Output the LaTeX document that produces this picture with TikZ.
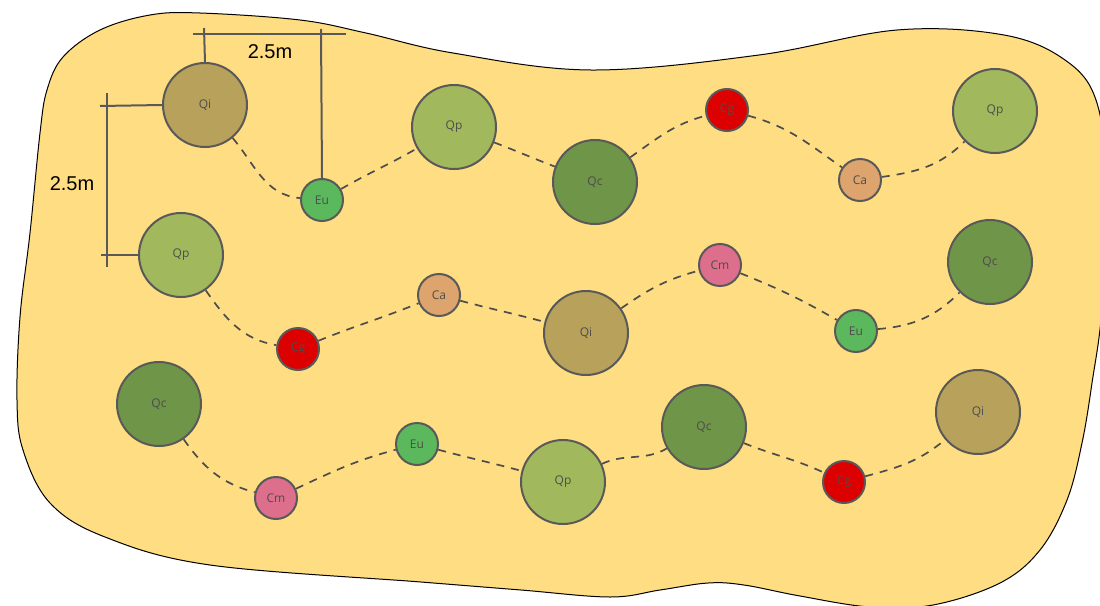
\documentclass[tikz,border=0pt]{standalone}
\usepackage{fontspec}
\setmainfont{Liberation Sans}
\newfontfamily\lblfont{Open Sans}
\definecolor{blob}{HTML}{FFDD82}
\definecolor{cQi}{HTML}{B8A15B}
\definecolor{cQp}{HTML}{A2B85C}
\definecolor{cQc}{HTML}{6F9548}
\definecolor{cEu}{HTML}{5CB85C}
\definecolor{cCg}{HTML}{DD0000}
\definecolor{cCa}{HTML}{DDA46E}
\definecolor{cCm}{HTML}{DD6E8C}
\definecolor{edge}{HTML}{595959}
\definecolor{txt}{HTML}{4D4D4D}
\tikzset{
  tree/.style={circle,draw=edge,line width=2pt,inner sep=0pt,text=txt,font=\lblfont\fontsize{12}{14}\selectfont},
  big/.style={tree,minimum size=84pt},
  small/.style={tree,minimum size=42pt},
  Qi/.style={big,fill=cQi},
  Qp/.style={big,fill=cQp},
  Qc/.style={big,fill=cQc},
  Eu/.style={small,fill=cEu},
  Cg/.style={small,fill=cCg},
  Ca/.style={small,fill=cCa},
  Cm/.style={small,fill=cCm},
  link/.style={draw=txt,line width=1.7pt,dash pattern=on 8pt off 7pt},
  dim/.style={draw=edge,line width=2pt},
  dimlabel/.style={font=\fontsize{20}{24}\selectfont,text=black,inner sep=0pt}
}
\begin{document}
\begin{tikzpicture}[x=1pt,y=-1pt]
\useasboundingbox (0,0) rectangle (1100,605);
% ground
\fill[blob,draw=black,line width=1pt] plot[smooth cycle,tension=0.6] coordinates {
 (200,13) (300,20) (366,33) (453,53) (591,70) (759,55) (897,30) (1004,35)
 (1065,60) (1096,100) (1106,180) (1102,307) (1092,383) (1082,443) (1067,500)
 (1040,550) (1000,583) (933,605) (870,607) (800,596) (744,585) (708,583)
 (660,590) (610,597) (521,590) (421,582) (210,565) (105,537) (50,503) (23,450)
 (17,400) (20,317) (30,233) (40,133) (47,90) (63,57) (100,30) (150,15)};
% row 1
\node[Qi] (a1) at (205,105) {Qi};
\node[Eu] (a2) at (322,200) {Eu};
\node[Qp] (a3) at (454,127) {Qp};
\node[Qc] (a4) at (595,182) {Qc};
\node[Cg] (a5) at (727,110) {Cg};
\node[Ca] (a6) at (860,180) {Ca};
\node[Qp] (a7) at (995,111) {Qp};
% row 2
\node[Qp] (b1) at (181,255) {Qp};
\node[Cg] (b2) at (298,349) {Cg};
\node[Ca] (b3) at (439,295) {Ca};
\node[Qi] (b4) at (586,333) {Qi};
\node[Cm] (b5) at (720,265) {Cm};
\node[Eu] (b6) at (856,331) {Eu};
\node[Qc] (b7) at (990,262) {Qc};
% row 3
\node[Qc] (c1) at (159,404) {Qc};
\node[Cm] (c2) at (276,498) {Cm};
\node[Eu] (c3) at (417,444) {Eu};
\node[Qp] (c4) at (563,482) {Qp};
\node[Qc] (c5) at (704,427) {Qc};
\node[Cg] (c6) at (844,482) {Cg};
\node[Qi] (c7) at (978,412) {Qi};
% links
\draw[link] (a1) to[out=-50,in=175] (a2);
\draw[link] (a2) to[out=30,in=-150] (a3);
\draw[link] (a3) to[out=-21,in=159] (a4);
\draw[link] (a4) to[out=35,in=195] (a5);
\draw[link] (a5) to[out=-15,in=145] (a6);
\draw[link] (a6) to[out=8,in=-135] (a7);
\draw[link] (b1) to[out=-55,in=170] (b2);
\draw[link] (b2) to[out=22,in=-158] (b3);
\draw[link] (b3) to[out=-15,in=165] (b4);
\draw[link] (b4) to[out=35,in=195] (b5);
\draw[link] (b5) to[out=-22,in=150] (b6);
\draw[link] (b6) to[out=5,in=-135] (b7);
\draw[link] (c1) to[out=-55,in=165] (c2);
\draw[link] (c2) to[out=25,in=195] (c3);
\draw[link] (c3) to[out=-15,in=165] (c4);
\draw[link] (c4) to[out=25,in=-150] (c5);
\draw[link] (c5) to[out=-22,in=155] (c6);
\draw[link] (c6) to[out=15,in=-140] (c7);
% dimensions
\coordinate (t1) at (193,34);
\coordinate (t2) at (346,34);
\coordinate (t3) at (204,28);
\coordinate (t4) at (321,29);
\draw[dim] (t1) -- (t2);
\draw[dim] (t3) -- (a1.north);
\draw[dim] (t4) -- (a2.north);
\node[dimlabel] (tl) at (270,52) {2.5m};
\coordinate (l1) at (107,93);
\coordinate (l2) at (107,267);
\coordinate (l3) at (100,106);
\coordinate (l4) at (101,255);
\draw[dim] (l1) -- (l2);
\draw[dim] (l3) -- (a1.west);
\draw[dim] (l4) -- (b1.west);
\node[dimlabel] (ll) at (72,184) {2.5m};
\end{tikzpicture}
\end{document}
